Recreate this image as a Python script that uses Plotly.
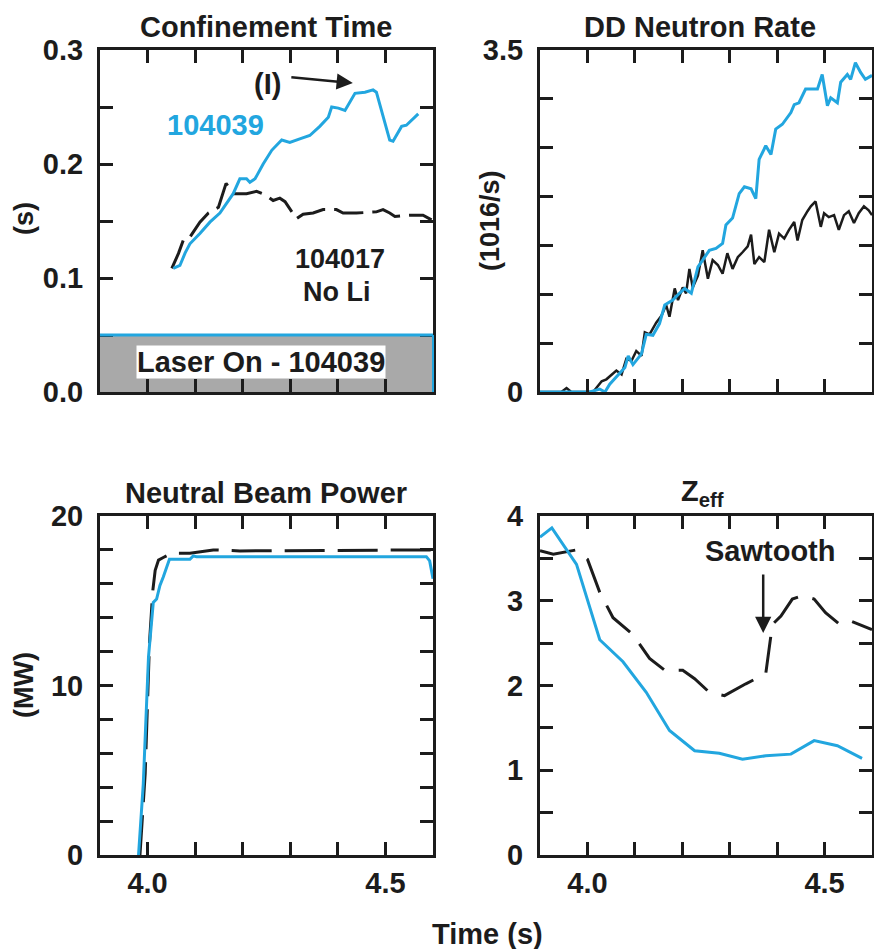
import plotly.graph_objects as go

# ---------------- data ----------------
# Confinement time (s)
tau_t_039 = [4.054, 4.068, 4.079, 4.089, 4.110, 4.131, 4.152, 4.166, 4.180, 4.194, 4.208, 4.215, 4.226,
             4.243, 4.261, 4.282, 4.299, 4.320, 4.341, 4.362, 4.380, 4.387, 4.401, 4.415, 4.436, 4.457,
             4.474, 4.481, 4.495, 4.509, 4.516, 4.534, 4.544, 4.569]
tau_v_039 = [0.1085, 0.111, 0.122, 0.130, 0.139, 0.149, 0.157, 0.166, 0.174, 0.187, 0.187, 0.184, 0.187,
             0.200, 0.212, 0.221, 0.219, 0.222, 0.225, 0.233, 0.241, 0.250, 0.249, 0.247, 0.262, 0.263,
             0.265, 0.263, 0.241, 0.221, 0.220, 0.233, 0.234, 0.244]
tau_t_017 = [4.051, 4.065, 4.075, 4.086, 4.110, 4.128, 4.149, 4.165, 4.180, 4.208, 4.229, 4.247, 4.264,
             4.278, 4.289, 4.299, 4.313, 4.327, 4.348, 4.369, 4.397, 4.411, 4.439, 4.481, 4.495, 4.509,
             4.520, 4.551, 4.579, 4.597]
tau_v_017 = [0.1085, 0.1216, 0.133, 0.134, 0.149, 0.157, 0.162, 0.183, 0.174, 0.174, 0.176, 0.173, 0.168,
             0.170, 0.167, 0.161, 0.152, 0.156, 0.157, 0.160, 0.160, 0.157, 0.157, 0.158, 0.160, 0.157,
             0.154, 0.155, 0.155, 0.151]

# DD neutron rate (1e16/s)
nr_t_039 = [3.900, 4.005, 4.026, 4.037, 4.047, 4.065, 4.079, 4.086, 4.096, 4.114, 4.124, 4.138, 4.152,
            4.163, 4.180, 4.194, 4.205, 4.219, 4.233, 4.243, 4.257, 4.271, 4.285, 4.292, 4.306, 4.320,
            4.331, 4.345, 4.355, 4.362, 4.376, 4.387, 4.397, 4.411, 4.429, 4.436, 4.446, 4.460, 4.485,
            4.495, 4.506, 4.513, 4.527, 4.534, 4.548, 4.555, 4.565, 4.576, 4.586, 4.600]
nr_v_039 = [0.00, 0.00, 0.03, 0.00, 0.08, 0.18, 0.25, 0.37, 0.28, 0.39, 0.59, 0.58, 0.70,
            0.89, 0.94, 1.01, 1.06, 1.01, 1.28, 1.35, 1.45, 1.47, 1.52, 1.71, 1.78, 2.03,
            2.10, 2.08, 1.98, 2.38, 2.52, 2.43, 2.69, 2.74, 2.86, 2.94, 2.96, 3.10, 3.10,
            3.25, 2.93, 3.01, 2.96, 3.17, 3.25, 3.20, 3.37, 3.27, 3.20, 3.24]
nr_t_017 = [3.900, 3.945, 3.956, 3.966, 4.012, 4.030, 4.040, 4.051, 4.061, 4.072, 4.082, 4.093, 4.103,
            4.114, 4.121, 4.131, 4.145, 4.156, 4.166, 4.173, 4.184, 4.191, 4.201, 4.208, 4.215, 4.222,
            4.233, 4.243, 4.254, 4.264, 4.275, 4.285, 4.295, 4.306, 4.317, 4.327, 4.338, 4.345, 4.352,
            4.362, 4.373, 4.383, 4.394, 4.404, 4.415, 4.425, 4.436, 4.443, 4.453, 4.464, 4.471, 4.481,
            4.492, 4.499, 4.509, 4.520, 4.530, 4.541, 4.551, 4.562, 4.572, 4.583, 4.593, 4.600]
nr_v_017 = [0.00, 0.00, 0.04, 0.00, 0.00, 0.11, 0.13, 0.18, 0.22, 0.18, 0.34, 0.32, 0.42,
            0.37, 0.61, 0.59, 0.71, 0.78, 0.89, 0.77, 1.06, 0.94, 1.07, 1.01, 1.26, 1.07,
            1.19, 1.45, 1.16, 1.35, 1.30, 1.21, 1.42, 1.26, 1.38, 1.43, 1.49, 1.61, 1.31,
            1.38, 1.33, 1.66, 1.43, 1.62, 1.57, 1.66, 1.74, 1.55, 1.76, 1.85, 1.90, 1.95,
            1.69, 1.83, 1.79, 1.81, 1.66, 1.81, 1.85, 1.73, 1.83, 1.90, 1.86, 1.81]

# Neutral beam power (MW)
nb_t_039 = [3.981, 3.991, 4.002, 4.012, 4.019, 4.026, 4.033, 4.046, 4.089, 4.096, 4.103, 4.586, 4.593, 4.600]
nb_v_039 = [0.0, 4.2, 11.7, 14.9, 15.1, 15.9, 16.4, 17.45, 17.45, 17.65, 17.6, 17.6, 17.35, 16.3]
nb_t_017 = [3.984, 3.995, 4.004, 4.011, 4.016, 4.023, 4.033, 4.051, 4.089, 4.138, 4.194, 4.600]
nb_v_017 = [0.0, 4.8, 12.5, 15.6, 16.8, 17.4, 17.55, 17.8, 17.8, 18.0, 17.94, 18.0]

# Zeff
z_t_039 = [3.900, 3.925, 3.977, 4.026, 4.075, 4.124, 4.173, 4.226, 4.278, 4.327, 4.376, 4.429, 4.478, 4.527, 4.579]
z_v_039 = [3.75, 3.86, 3.43, 2.54, 2.28, 1.92, 1.47, 1.23, 1.20, 1.13, 1.17, 1.19, 1.35, 1.29, 1.14]
z_t_017 = [3.900, 3.928, 3.977, 4.000, 4.026, 4.054, 4.096, 4.131, 4.163, 4.201, 4.226, 4.257, 4.289,
           4.334, 4.376, 4.390, 4.408, 4.432, 4.453, 4.478, 4.502, 4.530, 4.551, 4.600]
z_v_017 = [3.59, 3.55, 3.60, 3.49, 3.10, 2.80, 2.60, 2.32, 2.18, 2.18, 2.08, 1.92, 1.88,
           2.02, 2.14, 2.72, 2.82, 3.02, 3.06, 3.02, 2.86, 2.73, 2.77, 2.66]

x_tickvals = [4.0, 4.1, 4.2, 4.3, 4.4, 4.5]
x_ticktext = ["4.0", "", "", "", "", "4.5"]
tau_tickvals = [0.0, 0.05, 0.1, 0.15, 0.2, 0.25, 0.3]
tau_ticktext = ["0.0", "", "0.1", "", "0.2", "", "0.3"]
nr_tickvals = [0.0, 0.5, 1.0, 1.5, 2.0, 2.5, 3.0, 3.5]
nr_ticktext = ["0", "", "", "", "", "", "", "3.5"]
nb_tickvals = [0, 2, 4, 6, 8, 10, 12, 14, 16, 18, 20]
nb_ticktext = ["0", "", "", "", "", "10", "", "", "", "", "20"]
z_tickvals = [0, 0.5, 1, 1.5, 2, 2.5, 3, 3.5, 4]
z_ticktext = ["0", "", "1", "", "2", "", "3", "", "4"]

laser_on = [0.0, 0.05]

# ---------------- style ----------------
W, H = 874, 949
BLUE = "#22a6df"
BLK = "#1c1c1c"
FONT = "Liberation Sans, Arial, Helvetica, sans-serif"
FS = 29


def px_x(p):
    return p / W


def px_y(p):
    return 1 - p / H


fig = go.Figure()

fig.add_trace(go.Scatter(x=tau_t_017, y=tau_v_017, mode="lines", xaxis="x", yaxis="y",
                         line=dict(color=BLK, width=3, dash="30px,9px")))
fig.add_trace(go.Scatter(x=tau_t_039, y=tau_v_039, mode="lines", xaxis="x", yaxis="y",
                         line=dict(color=BLUE, width=3)))
fig.add_trace(go.Scatter(x=nr_t_017, y=nr_v_017, mode="lines", xaxis="x2", yaxis="y2",
                         line=dict(color=BLK, width=2.5)))
fig.add_trace(go.Scatter(x=nr_t_039, y=nr_v_039, mode="lines", xaxis="x2", yaxis="y2",
                         line=dict(color=BLUE, width=3)))
fig.add_trace(go.Scatter(x=nb_t_017, y=nb_v_017, mode="lines", xaxis="x3", yaxis="y3",
                         line=dict(color=BLK, width=3, dash="40px,13px")))
fig.add_trace(go.Scatter(x=nb_t_039, y=nb_v_039, mode="lines", xaxis="x3", yaxis="y3",
                         line=dict(color=BLUE, width=3)))
fig.add_trace(go.Scatter(x=z_t_017, y=z_v_017, mode="lines", xaxis="x4", yaxis="y4",
                         line=dict(color=BLK, width=3, dash="36px,15px")))
fig.add_trace(go.Scatter(x=z_t_039, y=z_v_039, mode="lines", xaxis="x4", yaxis="y4",
                         line=dict(color=BLUE, width=3)))

common = dict(showline=True, linecolor=BLK, linewidth=3, mirror="ticks", ticks="inside",
              ticklen=13, tickwidth=2.5, tickcolor=BLK, showgrid=False, zeroline=False,
              automargin=False,
              tickfont=dict(family=FONT, size=FS, color=BLK, weight="bold"))

dom_l = [px_x(100), px_x(433)]
dom_r = [px_x(540), px_x(872)]
dom_t = [px_y(392), px_y(50)]
dom_b = [px_y(855), px_y(516)]

xr = [3.9, 4.6]

layout = dict(
    width=W, height=H, margin=dict(l=0, r=0, t=0, b=0, pad=0, autoexpand=False),
    paper_bgcolor="white", plot_bgcolor="white", showlegend=False,
    xaxis=dict(domain=dom_l, anchor="y", range=xr, tickvals=x_tickvals, ticktext=[""] * 6, **common),
    yaxis=dict(domain=dom_t, anchor="x", range=[0, 0.3], tickvals=tau_tickvals, ticktext=tau_ticktext,
               ticklabelstandoff=8, **common),
    xaxis2=dict(domain=dom_r, anchor="y2", range=xr, tickvals=x_tickvals, ticktext=[""] * 6, **common),
    yaxis2=dict(domain=dom_t, anchor="x2", range=[0, 3.5], tickvals=nr_tickvals, ticktext=nr_ticktext,
                ticklabelstandoff=8, **common),
    xaxis3=dict(domain=dom_l, anchor="y3", range=xr, tickvals=x_tickvals, ticktext=x_ticktext,
                ticklabelstandoff=0, **common),
    yaxis3=dict(domain=dom_b, anchor="x3", range=[0, 20], tickvals=nb_tickvals, ticktext=nb_ticktext,
                ticklabelstandoff=8, **common),
    xaxis4=dict(domain=dom_r, anchor="y4", range=xr, tickvals=x_tickvals, ticktext=x_ticktext,
                ticklabelstandoff=0, **common),
    yaxis4=dict(domain=dom_b, anchor="x4", range=[0, 4], tickvals=z_tickvals, ticktext=z_ticktext,
                ticklabelstandoff=8, **common),
)
fig.update_layout(**layout)

# Laser-on band
fig.add_shape(type="rect", xref="x domain", yref="y", x0=0, x1=1, y0=laser_on[0], y1=laser_on[1],
              fillcolor="#a9a9a9", line=dict(width=0), layer="below")
fig.add_shape(type="line", xref="x domain", yref="y", x0=0, x1=1, y0=laser_on[1], y1=laser_on[1],
              line=dict(color=BLUE, width=3), layer="above")
fig.add_shape(type="line", xref="x domain", yref="y", x0=1, x1=1, y0=laser_on[0], y1=laser_on[1],
              line=dict(color=BLUE, width=2), layer="above")


def txt(text, x, y, size=FS, color=BLK, angle=0, bg=None, xanchor="center"):
    fig.add_annotation(text=text, x=px_x(x), y=px_y(y), xref="paper", yref="paper",
                       showarrow=False, textangle=angle, xanchor=xanchor, yanchor="middle",
                       bgcolor=bg, borderpad=0,
                       font=dict(family=FONT, size=size, color=color, weight="bold"))


# panel titles
txt("Confinement Time", 266, 27)
txt("DD Neutron Rate", 700, 27)
txt("Neutral Beam Power", 266, 493)
txt("Z<sub>eff</sub>", 702, 493)

# axis titles
txt("(s)", 24, 219, size=27, angle=-90)
txt("(1016/s)", 490, 221, size=27, angle=-90)
txt("(MW)", 24, 685, size=27, angle=-90)
txt("Time (s)", 487, 934)

# in-plot labels
txt("104039", 215, 125, color=BLUE)
txt("104017", 340, 259, size=27)
txt("No Li", 337, 292, size=27)
txt("(I)", 267, 84)
txt("Laser On - 104039", 261, 362, bg="white")
txt("Sawtooth", 770, 551)

# arrows
fig.add_annotation(x=4.4315, y=0.271, xref="x", yref="y", text="", showarrow=True,
                   ax=-63, ay=-6, axref="pixel", ayref="pixel", arrowhead=2, arrowsize=1.3,
                   arrowwidth=2.5, arrowcolor=BLK)
fig.add_annotation(x=4.3706, y=2.62, xref="x4", yref="y4", text="", showarrow=True,
                   ax=0, ay=-60, axref="pixel", ayref="pixel", arrowhead=2, arrowsize=1.3,
                   arrowwidth=2.5, arrowcolor=BLK)

fig.write_html("out.html", config={"displayModeBar": False},
               post_script="document.body.style.margin='0px';document.body.style.overflow='hidden';")
